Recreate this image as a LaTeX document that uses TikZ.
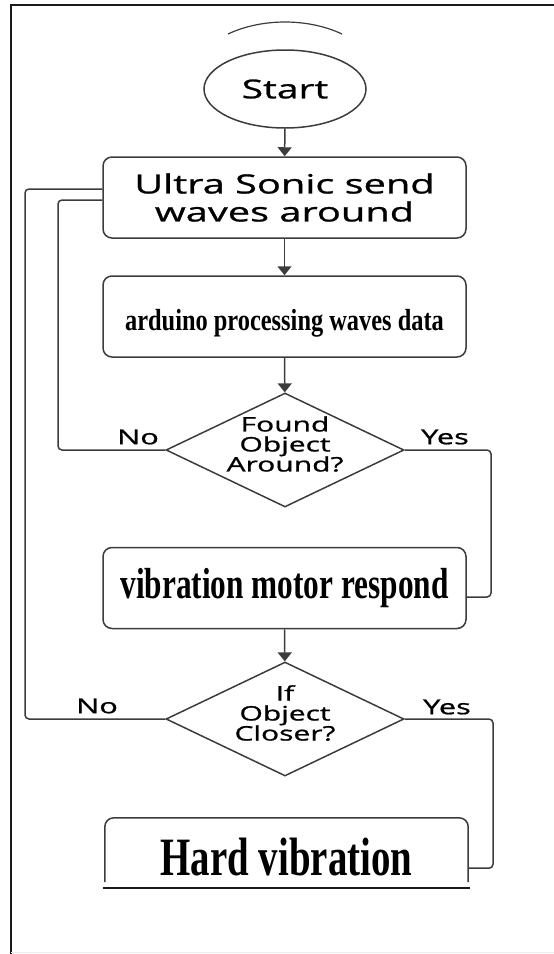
\documentclass[tikz,border=0pt]{standalone}
\usepackage{fontspec}
\usepackage{tikz}
\usetikzlibrary{arrows.meta,positioning,calc,shapes.geometric}
\newfontfamily\widesans[FakeStretch=1.5,FakeBold=1]{Open Sans}
\newfontfamily\narrowserif[FakeStretch=0.72]{Liberation Serif}
\newfontfamily\condserif[FakeStretch=0.8]{Liberation Serif}
\definecolor{ln}{HTML}{3C3C3C}
\definecolor{frame}{HTML}{1A1A1A}

\begin{document}
\begin{tikzpicture}[x=1pt,y=-1pt,
    line/.style={draw=ln, line width=1.5pt},
    flow/.style={line, -{Triangle[width=14pt,length=9pt]}},
    loop/.style={line, rounded corners=4pt},
    box/.style={line, rounded corners=9pt, minimum width=363pt, minimum height=81pt, inner sep=0pt},
    decide/.style={line, diamond, minimum width=238pt, minimum height=114pt, inner sep=0pt},
    dtext/.style={align=center, inner sep=0pt, font=\widesans\fontsize{20}{20}\selectfont},
    lbl/.style={font=\widesans\fontsize{20.5}{22}\selectfont}]
  \useasboundingbox (0,0) rectangle (554,954);
  % frame and the stray arc
  \draw[frame, line width=2pt] (11,954) -- (11,5) -- (554,5);
  \draw[gray!15, line width=1pt] (11,952) -- (554,952);
  \draw[ln, line width=1.2pt] (228,34) .. controls (262,18) and (308,18) .. (342,34);

  \node[line, ellipse, minimum width=162pt, minimum height=78pt, inner sep=0pt,
        font=\widesans\fontsize{26}{28}\selectfont] (start) at (285,89) {Start};
  \node[box, align=center, font=\widesans\fontsize{26.5}{28}\selectfont] (sense) at (284.5,197.5)
       {Ultra Sonic send\\waves around};
  \node[box, text height=34pt, text depth=7pt, font=\condserif\bfseries\fontsize{30.5}{32}\selectfont] (proc) at (284.5,316.5)
       {arduino processing waves data};
  \node[decide] (found) at (285,450) {};
  \node[dtext] (foundtxt) at ($(found)+(0,-6)$) {Found\\Object\\Around?};
  \node[box, font=\narrowserif\bfseries\fontsize{43.5}{48}\selectfont] (motor) at (284.5,588)
       {vibration motor respond};
  \node[decide] (closer) at (285,719) {};
  \node[dtext] (closertxt) at ($(closer)+(0,-6)$) {If\\Object\\Closer?};
  \node[minimum width=363pt, minimum height=64pt, inner sep=0pt, text height=50pt, text depth=0pt,
        font=\narrowserif\bfseries\fontsize{54}{58}\selectfont] (hard) at (286.5,850) {Hard vibration};
  \draw[line, rounded corners=9pt] (hard.south west) -- (hard.north west) -- (hard.north east) -- (hard.south east);
  \draw[frame, line width=1.8pt] ($(hard.south west)+(-2,6)$) -- ($(hard.south east)+(2,6)$);

  % main flow
  \foreach \a/\b in {start/sense, sense/proc, proc/found, motor/closer}
    \draw[flow] (\a) -- (\b);

  % decisions
  \draw[loop] (found.west) -- (58,450) |- ($(sense.west)+(0,2.5)$);
  \draw[loop] (closer.west) -- (25,719) |- ($(sense.west)+(0,-8.5)$);
  \draw[loop] (found.east) -- (491,450) |- ($(motor.east)+(0,9)$);
  \draw[loop] (closer.east) -- (493,719) |- ($(hard.south east)+(0,-14)$);
  \node[lbl] at (138,437) {No};
  \node[lbl] at (97,706) {No};
  \node[lbl] at (445,437) {Yes};
  \node[lbl] at (447,707) {Yes};
\end{tikzpicture}
\end{document}
